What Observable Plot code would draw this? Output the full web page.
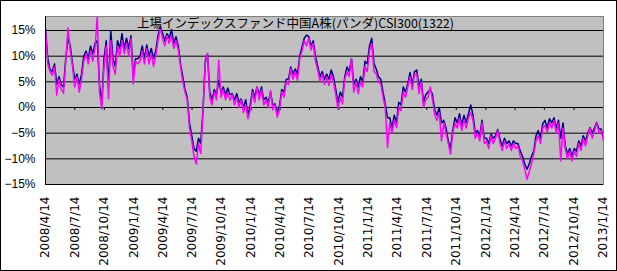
<!DOCTYPE html>
<html><head><meta charset="utf-8">
<script src="https://cdn.jsdelivr.net/npm/d3@7"></script>
<script src="https://cdn.jsdelivr.net/npm/@observablehq/plot@0.6"></script>
<style>body{margin:0;background:#fff} svg{display:block;outline:1px solid #000;outline-offset:-1px}</style>
</head><body><div id="chart"></div>
<script>
const title = "上場インデックスファンド中国A株(パンダ)CSI300(1322)";
const startDate = "2008-04-14";
const tickLabels = ["2008/4/14","2008/7/14","2008/10/14","2009/1/14","2009/4/14","2009/7/14","2009/10/14","2010/1/14","2010/4/14","2010/7/14","2010/10/14","2011/1/14","2011/4/14","2011/7/14","2011/10/14","2012/1/14","2012/4/14","2012/7/14","2012/10/14","2013/1/14"];
const yTicks = [-15,-10,-5,0,5,10,15];
const magenta = [
15.0,8.5,7.0,6.3,8.0,2.4,5.5,3.5,2.8,9.0,
15.5,11,8,4,6,3,5.5,9,10.5,8.5,
11,9,11.5,18,3,-0.3,8,12,1.7,13,
8,6.5,12,10,13,10.5,12.5,10,13.5,4.6,
9,8.5,9,11,8.5,11.5,8.5,10.5,8,10,
13,15.5,13.5,12,14,12.5,14,11.5,13,11.2,
8,5,3,1.4,-4,-6.5,-9.5,-11,-7,-9,
-1,8.5,10.5,2,0.5,3,1.5,9.2,2,3.5,
1.5,3,1.4,2.5,0.5,2,0,1.5,-1,0.5,
-2.2,-0.5,3,1,4,1.5,3.5,0.5,1.5,0,
3.3,-0.5,0.5,-1.9,-0.5,3,2,5,4.5,7.5,
5.5,7,5.3,9.5,11,13,12,13.5,11.2,12.5,
9,7.3,5,6.5,4.5,6,4.3,6.5,5,2.5,
-0.3,2,0.7,5.5,7,6,9.5,3,5,2.7,
5,4,8,7,11,12.5,7,6.6,5,4.6,
2,0,-7.8,-3,-5,-2.5,-3.9,0,-0.6,3,
2,4,6,3.5,6.5,6.5,2.7,5,0,1.5,
2,4,1.5,-1.5,-2.5,-1,-6.5,-3,-5,-7,
-9.1,-5,-3,-4,-2,-4.5,-2.5,-4,-2,-1,
-2.5,-6,-5,-6.5,-3,-7,-6.5,-8,-5.5,-7,
-6,-4.5,-7,-8.4,-6.5,-8,-7,-8.4,-7,-8,
-7.5,-9.5,-10.4,-12,-14,-12.5,-11,-9,-6.5,-5.5,
-7,-4,-3.5,-4.8,-3,-4,-2.5,-5,-3,-10.4,
-4,-8,-10,-8.5,-10.4,-8.5,-9.5,-7,-8.4,-6,
-7.5,-5.5,-4,-6,-4.5,-3,-5,-4.5,-6.5];
const navy = [
15.4,9.5,7.4,7.0,8.5,4.5,6.0,4.5,4.0,9.5,
13.5,12,8.5,5.5,6.5,4.5,6.5,10,11,9.5,
12,10.5,12.5,13,4.5,0.5,9.5,13,4,15,
9.5,8,13,11.5,14.4,11.5,13.5,11.5,14,6,
9.5,9.5,10,12,9.5,12.2,10,11.5,9.5,11,
14,15.8,14.5,13,14.4,13.5,15.2,12.5,13.8,12,
8.5,6,3.5,2,-3,-5.5,-8,-8.5,-6,-7,
-0.5,9,10.5,3,1.5,3.5,2.5,5.3,3,4,
2.5,3.8,2.5,2.7,1.5,2.7,1,1.7,0,1.5,
-1.5,0.5,3.5,2,4,2.5,4,1.5,2,1,
3,0.5,0.7,-1,0.3,3.5,3,5.5,5.5,7.9,
6.5,7.5,6.5,10,11.8,13.5,14.1,13.8,12,13,
9.9,8,6,7,5.5,6.5,5.5,7.3,6,3.5,
1,3,2,6,7.9,7,9.5,4.5,5.5,4,
6,5,9,8.5,12,13.5,8.5,7.5,6,5.5,
3,0.7,-2,-2,-4,-1.5,-3,1,0.5,4,
3,4.6,6.8,4.5,7,7.3,4,5.5,1,2.5,
3,3.5,2.5,-0.5,-1.5,0,-3,-2.5,-4,-6.5,
-8,-4.5,-2,-3,-1.2,-3.5,-1.5,-3,-1.2,0.5,
-1.5,-5,-4.5,-5.5,-2.5,-6,-6,-7,-5.2,-6,
-5.5,-4.3,-6.2,-7.5,-6,-7,-6.5,-7.5,-6.5,-7,
-7,-8.5,-9.5,-11,-12,-11,-9.5,-8.5,-5.5,-4.5,
-6,-3.2,-2.5,-4,-2.2,-3,-2,-4,-2.5,-6,
-3,-7.5,-9,-8,-9.5,-8,-8.5,-6.5,-7.5,-5.5,
-6.5,-5,-3.9,-5,-4,-2.9,-4.2,-4.2,-6];

const parse = d3.utcParse("%Y/%m/%d");
const tickDates = tickLabels.map(parse);
const start = d3.utcParse("%Y-%m-%d")(startDate);
const rows = navy.map((v, i) => ({date: d3.utcDay.offset(start, 7 * i), navy: v, magenta: magenta[i]}));
const labelOf = new Map(tickDates.map((d, i) => [+d, tickLabels[i]]));

const chart = Plot.plot({
  width: 617, height: 271,
  marginLeft: 45, marginRight: 14, marginTop: 16, marginBottom: 87,
  style: {fontFamily: "'Liberation Sans', Arial, sans-serif", fontSize: "12px", background: "#fff", color: "#000"},
  x: {type: "utc", domain: [tickDates[0], tickDates[tickDates.length - 1]]},
  y: {domain: [-15, 17.73]},
  marks: [
    Plot.frame({fill: "#c0c0c0", stroke: null}),
    Plot.ruleY(yTicks, {stroke: "#000", strokeWidth: 1}),
    Plot.ruleX(tickDates, {y1: 0, y2: 0, insetBottom: -3, stroke: "#000"}),
    Plot.lineY(rows, {x: "date", y: "navy", stroke: "#000080", strokeWidth: 1.5, clip: true}),
    Plot.lineY(rows, {x: "date", y: "magenta", stroke: "#ff00ff", strokeWidth: 1.5, clip: true}),
    Plot.frame({stroke: "#808080"}),
    Plot.ruleX([tickDates[0]], {stroke: "#000"}),
    Plot.ruleY([-15], {stroke: "#000"}),
    Plot.axisY({ticks: yTicks, tickSize: 0, tickPadding: 10, fontSize: 12,
      tickFormat: d => (d < 0 ? "\u2212" : "") + Math.abs(d) + "%"}),
    Plot.axisX({ticks: tickDates, tickSize: 0, tickPadding: 12, tickRotate: -90,
      tickFormat: d => labelOf.get(+d), fontFamily: "DejaVu Sans", fontSize: 12}),
    Plot.text([title], {frameAnchor: "top", dx: -29, dy: 7, lineAnchor: "middle",
      fontFamily: "'Noto Sans CJK JP', sans-serif", fontSize: 12.5})
  ]
});
document.getElementById("chart").append(chart);
</script>
</body></html>
